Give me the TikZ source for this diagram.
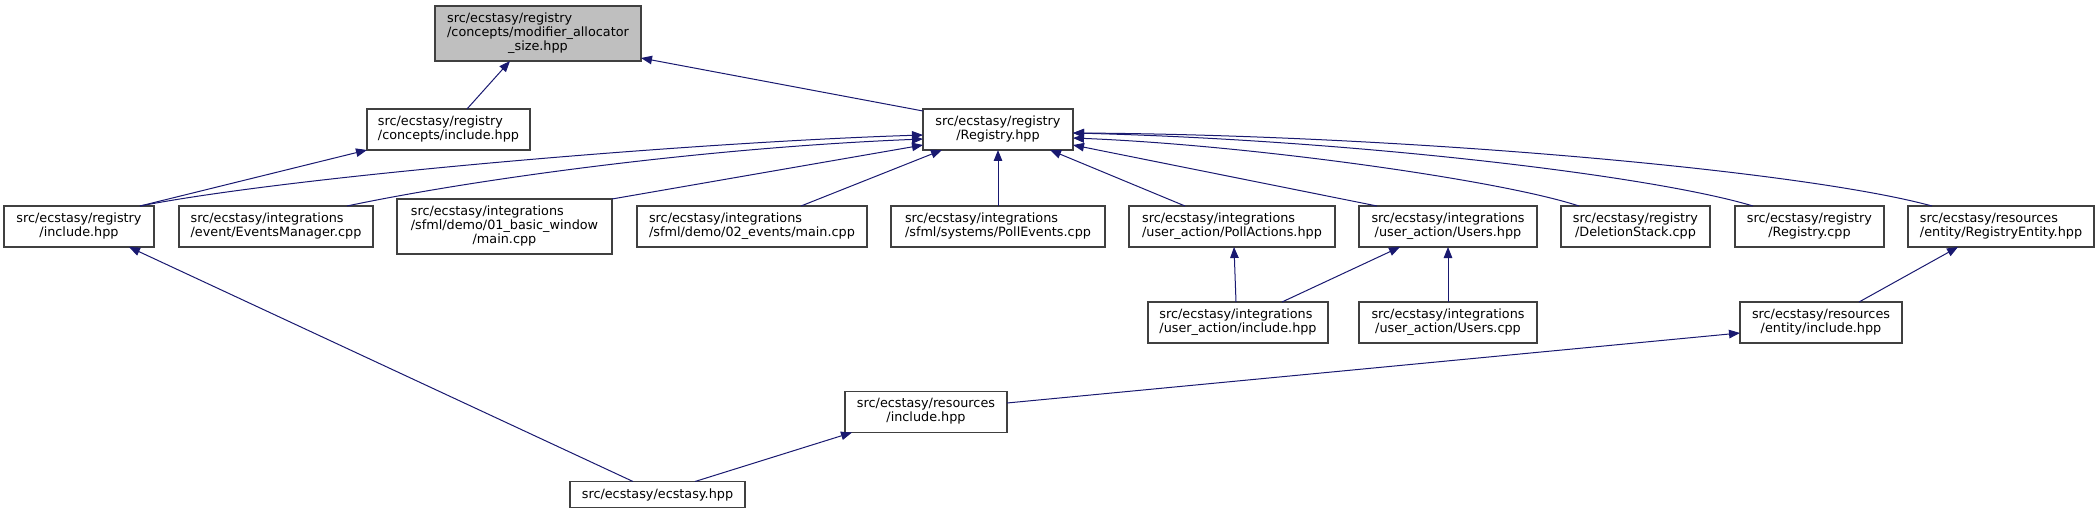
\documentclass[tikz,border=0pt]{standalone}
\usepackage{fontspec}
\setmainfont{DejaVu Sans}
\usetikzlibrary{arrows.meta}
\definecolor{edgeblue}{HTML}{191970}
\definecolor{boxline}{HTML}{404040}
\definecolor{rootfill}{HTML}{BFBFBF}
\newcommand{\nlab}[2]{\begin{tabular}{@{}l@{}}#1\\\multicolumn{1}{@{}c@{}}{#2}\end{tabular}}
\tikzset{
  fbox/.style={draw=boxline, line width=1.3pt, fill=white, inner sep=0pt, outer sep=0pt,
    minimum height=41, font=\fontsize{12.8}{14}\selectfont},
  rootbox/.style={fbox, fill=rootfill},
  edge/.style={draw=edgeblue, line width=1pt, -{Triangle[length=11pt,width=8.5pt]}},
}
\begin{document}
\begin{tikzpicture}[x=1pt,y=-1pt]
\useasboundingbox (0,0) rectangle (2100,513);
% nodes
\node[rootbox, minimum width=206, minimum height=55] (mod) at (538,33.5) {\nlab{src/ecstasy/registry\\/concepts/modifier\_allocator}{\_size.hpp}};
\node[fbox, minimum width=163] (cinc) at (448.5,129.5) {\nlab{src/ecstasy/registry}{/concepts/include.hpp}};
\node[fbox, minimum width=150] (reg) at (998,129.5) {\nlab{src/ecstasy/registry}{/Registry.hpp}};
\node[fbox, minimum width=150] (rinc) at (79,226.5) {\nlab{src/ecstasy/registry}{/include.hpp}};
\node[fbox, minimum width=194] (evm) at (276,226.5) {\nlab{src/ecstasy/integrations}{/event/EventsManager.cpp}};
\node[fbox, minimum width=215, minimum height=55] (bw) at (504.5,226.5) {\nlab{src/ecstasy/integrations\\/sfml/demo/01\_basic\_window}{/main.cpp}};
\node[fbox, minimum width=230] (ev2) at (752,226.5) {\nlab{src/ecstasy/integrations}{/sfml/demo/02\_events/main.cpp}};
\node[fbox, minimum width=214] (pe) at (998,226.5) {\nlab{src/ecstasy/integrations}{/sfml/systems/PollEvents.cpp}};
\node[fbox, minimum width=206] (pa) at (1232,226.5) {\nlab{src/ecstasy/integrations}{/user\_action/PollActions.hpp}};
\node[fbox, minimum width=178] (us) at (1448,226.5) {\nlab{src/ecstasy/integrations}{/user\_action/Users.hpp}};
\node[fbox, minimum width=149] (ds) at (1635.5,226.5) {\nlab{src/ecstasy/registry}{/DeletionStack.cpp}};
\node[fbox, minimum width=149] (rc) at (1809.5,226.5) {\nlab{src/ecstasy/registry}{/Registry.cpp}};
\node[fbox, minimum width=186] (re) at (2001,226.5) {\nlab{src/ecstasy/resources}{/entity/RegistryEntity.hpp}};
\node[fbox, minimum width=180] (uai) at (1238,322.5) {\nlab{src/ecstasy/integrations}{/user\_action/include.hpp}};
\node[fbox, minimum width=178] (usc) at (1448,322.5) {\nlab{src/ecstasy/integrations}{/user\_action/Users.cpp}};
\node[fbox, minimum width=162] (ei) at (1821,322.5) {\nlab{src/ecstasy/resources}{/entity/include.hpp}};
\node[fbox, minimum width=162] (resi) at (926,412) {\nlab{src/ecstasy/resources}{/include.hpp}};
\node[fbox, minimum width=175, minimum height=26] (ecs) at (657.5,494.5) {src/ecstasy/ecstasy.hpp};
% edges
\draw[edge] ([xshift=18.5pt]cinc.north) -- ([xshift=-28pt]mod.south);
\draw[edge] ([yshift=-2pt]reg.north west) -- ([yshift=-24.5pt]mod.east);
\draw[edge] ([xshift=61pt]rinc.north) -- (cinc.south west);
\draw[edge] ([xshift=61pt]rinc.north) .. controls (300,175) and (700,142) .. ([yshift=-5.5pt]reg.west);
\draw[edge] ([xshift=71pt]evm.north) .. controls (470,180) and (700,148) .. ([yshift=-9.5pt]reg.west);
\draw[edge] (bw.north east) -- ([yshift=-15.5pt]reg.west);
\draw[edge] ([xshift=49pt]ev2.north) -- ([xshift=-56pt]reg.south);
\draw[edge] (pe.north) -- (reg.south);
\draw[edge] ([xshift=-47pt]pa.north) -- ([xshift=52pt]reg.south);
\draw[edge] ([xshift=-71pt]us.north) -- ([yshift=-15.5pt]reg.east);
\draw[edge] ([xshift=-56.5pt]ds.north) .. controls (1500,180) and (1250,145) .. ([yshift=-8.5pt]reg.east);
\draw[edge] ([xshift=-56.5pt]rc.north) .. controls (1650,175) and (1350,140) .. ([yshift=-3.5pt]reg.east);
\draw[edge] ([xshift=-69pt]re.north) .. controls (1800,170) and (1400,135) .. ([yshift=-3.5pt]reg.east);
\draw[edge] ([xshift=-2pt]uai.north) -- ([xshift=2pt]pa.south);
\draw[edge] ([xshift=44pt]uai.north) -- ([xshift=-48pt]us.south);
\draw[edge] (usc.north) -- (us.south);
\draw[edge] ([xshift=38pt]ei.north) -- ([xshift=-43pt]re.south);
\draw[edge] ([yshift=9pt]resi.east) -- ([yshift=-10.5pt]ei.west);
\draw[edge] ([xshift=37.5pt]ecs.north) -- ([xshift=-74pt]resi.south);
\draw[edge] ([xshift=-24.5pt]ecs.north) -- ([xshift=50pt]rinc.south);
\end{tikzpicture}
\end{document}
